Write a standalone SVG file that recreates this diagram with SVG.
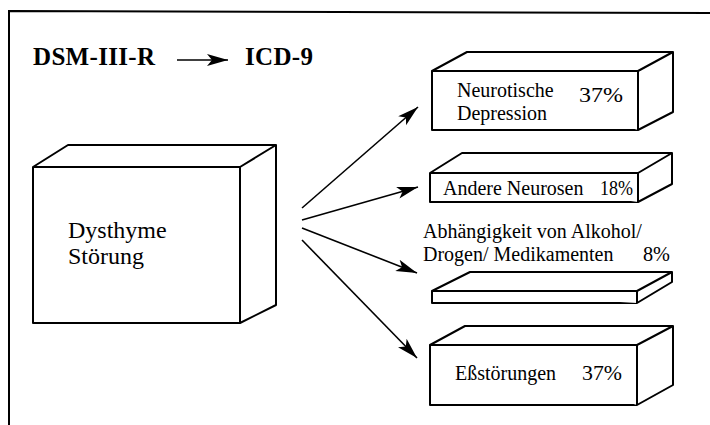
<svg xmlns="http://www.w3.org/2000/svg" width="710" height="425" viewBox="0 0 710 425">
<style>
.box{fill:#fff;stroke:#000;stroke-width:2;stroke-linejoin:round}
.t{font-family:"Liberation Serif","Times New Roman","DejaVu Serif",serif;font-size:20px;fill:#000}
.big{font-size:24px}
.pct{font-size:21px}
.title{font-family:"Liberation Serif","Times New Roman","DejaVu Serif",serif;font-size:25px;font-weight:bold;fill:#000}
.conn{stroke:#000;stroke-width:1.6;fill:none}
</style>
<defs>
<marker id="ah" markerUnits="userSpaceOnUse" markerWidth="22" markerHeight="14" viewBox="0 0 22 14" refX="21" refY="7" orient="auto">
<path d="M0,1 L21,7 L0,13 L5,7 Z" fill="#000"/>
</marker>
</defs>
<rect width="710" height="425" fill="#fff"/>
<g id="frame">
<path d="M9,425 L9,11 L710,13" fill="none" stroke="#000" stroke-width="2"/>
</g>
<g id="title">
<text class="title" x="33" y="65" textLength="122">DSM-III-R</text>
<line x1="177" y1="60" x2="228" y2="60" class="conn" marker-end="url(#ah)"/>
<text class="title" x="245" y="65" textLength="68">ICD-9</text>
</g>
<g id="dysthyme">
<path class="box" d="M33,167 L68,145 L276,145 L276,305 L240,323 L33,323 Z"/>
<path class="box" d="M33,167 L240,167 L240,323 M240,167 L276,145" fill="none"/>
<text class="t big" x="68" y="238">Dysthyme</text>
<text class="t big" x="68" y="264">Störung</text>
</g>
<g id="neurotische">
<path class="box" d="M432,71 L467,52 L673,52 L673,112 L638,130 L432,130 Z"/>
<path class="box" d="M432,71 L638,71 L638,130 M638,71 L673,52" fill="none"/>
<text class="t" x="457" y="97">Neurotische</text>
<text class="t" x="457" y="120">Depression</text>
<text class="t pct" x="579" y="102" textLength="44" lengthAdjust="spacingAndGlyphs">37%</text>
</g>
<g id="andere">
<path class="box" d="M430,173 L462,153 L672,153 L672,184 L638,202 L430,202 Z"/>
<path class="box" d="M430,173 L638,173 L638,202 M638,173 L672,153" fill="none"/>
<text class="t" x="443" y="195">Andere Neurosen</text>
<text class="t" x="600" y="195" textLength="33" lengthAdjust="spacingAndGlyphs">18%</text>
</g>
<g id="abhaengigkeit">
<path class="box" d="M432,291 L470,272 L672,272 L672,282 L637,303 L432,303 Z"/>
<path class="box" d="M432,291 L637,291 L637,303 M637,291 L672,272" fill="none"/>
<text class="t" x="423" y="238">Abhängigkeit von Alkohol/</text>
<text class="t" x="423" y="261">Drogen/ Medikamenten</text>
<text class="t" x="643" y="261" textLength="27" lengthAdjust="spacingAndGlyphs">8%</text>
</g>
<g id="essstoerungen">
<path class="box" d="M430,345 L465,326 L673,326 L673,385 L637,405 L430,405 Z"/>
<path class="box" d="M430,345 L637,345 L637,405 M637,345 L673,326" fill="none"/>
<text class="t" x="455" y="380">Eßstörungen</text>
<text class="t pct" x="582" y="380" textLength="40" lengthAdjust="spacingAndGlyphs">37%</text>
</g>
<g id="connectors">
<line class="conn" x1="302" y1="208" x2="418" y2="107" marker-end="url(#ah)"/>
<line class="conn" x1="302" y1="220" x2="418" y2="187" marker-end="url(#ah)"/>
<line class="conn" x1="302" y1="228" x2="417" y2="273" marker-end="url(#ah)"/>
<line class="conn" x1="302" y1="240" x2="417" y2="358" marker-end="url(#ah)"/>
</g>
</svg>
